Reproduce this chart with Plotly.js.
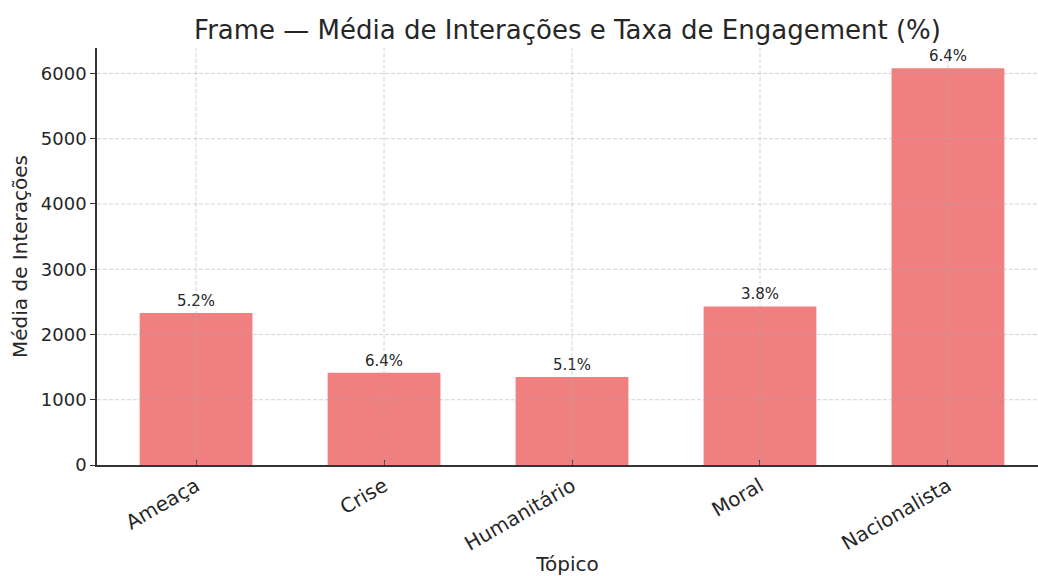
<!DOCTYPE html>
<html>
<head>
<meta charset="utf-8">
<script src="https://cdn.plot.ly/plotly-3.0.1.min.js"></script>
<style>html,body{margin:0;padding:0;background:#fff;}#chart{width:1038px;height:576px;}</style>
</head>
<body>
<div id="chart"></div>
<script>
const categories = ["Ameaça", "Crise", "Humanitário", "Moral", "Nacionalista"];
const mediaInteracoes = [2330, 1415, 1350, 2430, 6080];
const taxaEngagement = [5.2, 6.4, 5.1, 3.8, 6.4];
const yTicks = [0, 1000, 2000, 3000, 4000, 5000, 6000];

const FONT = "DejaVu Sans, sans-serif";
const TXT = "#262626";
const GRID = "rgba(170,170,170,0.65)";

const trace = {
  type: "bar",
  x: categories.map((c, i) => i),
  y: mediaInteracoes,
  width: 0.6,
  marker: {color: "#F08080", line: {width: 0}},
  text: taxaEngagement.map(v => v.toFixed(1) + "%"),
  textposition: "outside",
  textfont: {family: FONT, size: 15, color: TXT},
  cliponaxis: false,
  hoverinfo: "x+y"
};

const shapes = [];
yTicks.filter(v => v > 0).forEach(v => shapes.push({
  type: "line", xref: "paper", yref: "y", x0: 0, x1: 1, y0: v, y1: v,
  line: {color: GRID, width: 0.8, dash: "4px,2px"}, layer: "above"
}));
categories.forEach((c, i) => shapes.push({
  type: "line", xref: "x", yref: "paper", x0: i, x1: i, y0: 0, y1: 1,
  line: {color: GRID, width: 0.8, dash: "4px,2px"}, layer: "above"
}));

const layout = {
  width: 1038, height: 576,
  margin: {l: 97, r: 0, t: 48, b: 111},
  paper_bgcolor: "#fff", plot_bgcolor: "#fff",
  font: {family: FONT, color: TXT},
  showlegend: false,
  title: {
    text: "Frame — Média de Interações e Taxa de Engagement (%)",
    font: {family: FONT, size: 26, color: TXT},
    x: 0.5, xref: "paper", xanchor: "center",
    y: 0.948, yref: "container", yanchor: "middle"
  },
  xaxis: {
    range: [-0.527, 4.479],
    tickmode: "array",
    tickvals: categories.map((c, i) => i),
    ticktext: categories,
    tickangle: -30,
    tickfont: {family: FONT, size: 20, color: TXT},
    ticks: "inside", ticklen: 5, tickcolor: "#333", tickwidth: 1.2,
    showline: true, linecolor: "#333", linewidth: 1.5,
    showgrid: false, zeroline: false,
    title: {text: "Tópico", font: {family: FONT, size: 20, color: TXT}, standoff: 2}
  },
  yaxis: {
    range: [0, 6390],
    tickmode: "array",
    tickvals: yTicks,
    ticktext: yTicks.map(String),
    tickfont: {family: FONT, size: 18, color: TXT},
    ticks: "outside", ticklen: 5, tickcolor: "#333", tickwidth: 1.2,
    showline: true, linecolor: "#333", linewidth: 1.5,
    showgrid: false, zeroline: false,
    title: {text: "Média de Interações", font: {family: FONT, size: 20, color: TXT}, standoff: 8}
  },
  shapes: shapes
};

Plotly.newPlot("chart", [trace], layout, {displayModeBar: false, responsive: false});
</script>
</body>
</html>
